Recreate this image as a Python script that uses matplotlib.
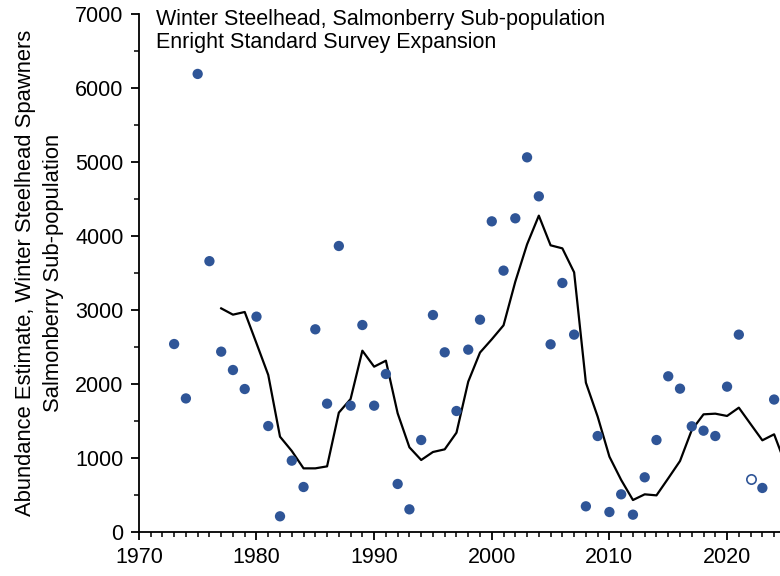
import matplotlib
matplotlib.use("Agg")
import matplotlib.pyplot as plt
from matplotlib.ticker import MultipleLocator

plt.rcParams['font.family'] = ['Liberation Sans', 'DejaVu Sans']

# annual abundance estimates (filled points)
years = [1973, 1974, 1975, 1976, 1977, 1978, 1979, 1980, 1981, 1982, 1983, 1984,
         1985, 1986, 1987, 1988, 1989, 1990, 1991, 1992, 1993, 1994, 1995, 1996,
         1997, 1998, 1999, 2000, 2001, 2002, 2003, 2004, 2005, 2006, 2007, 2008,
         2009, 2010, 2011, 2012, 2013, 2014, 2015, 2016, 2017, 2018, 2019, 2020,
         2021, 2023, 2024]
counts = [2540, 1805, 6190, 3660, 2437, 2189, 1932, 2910, 1432, 212, 964, 608,
          2739, 1734, 3865, 1707, 2797, 1707, 2135, 649, 306, 1243, 2932, 2428,
          1635, 2464, 2869, 4198, 3532, 4239, 5063, 4536, 2536, 3365, 2667, 347,
          1297, 270, 509, 234, 739, 1243, 2104, 1937, 1428, 1369, 1297, 1964,
          2667, 595, 1790]

# preliminary / incomplete estimate (open point)
open_years = [2022]
open_counts = [716]

# running average line
avg_years = list(range(1977, 2026))
avg_vals = [3022, 2937, 2973, 2550, 2122, 1288, 1095, 860, 860, 887, 1613, 1797,
            2450, 2234, 2315, 1604, 1144, 973, 1081, 1117, 1342, 2032, 2425, 2604,
            2793, 3383, 3887, 4275, 3874, 3833, 3509, 2018, 1560, 1018, 703, 432,
            509, 495, 725, 959, 1378, 1590, 1599, 1568, 1680, 1459, 1239, 1320, 900]

blue = '#2F5597'
fs = 15.5

fig = plt.figure(figsize=(7.8, 5.76), dpi=100)
ax = fig.add_axes([0.178, 0.0764, 0.822, 0.8993])

ax.plot(avg_years, avg_vals, color='black', lw=1.6, zorder=2)
ax.scatter(years, counts, s=55, color=blue, edgecolors='none', zorder=3)
ax.scatter(open_years, open_counts, s=45, facecolors='white', edgecolors=blue,
           linewidths=1.2, zorder=3)

ax.set_xlim(1970, 2024.5)
ax.set_ylim(0, 7000)
ax.xaxis.set_major_locator(MultipleLocator(10))
ax.xaxis.set_minor_locator(MultipleLocator(1))
ax.yaxis.set_major_locator(MultipleLocator(1000))
ax.yaxis.set_minor_locator(MultipleLocator(500))

for s in ['top', 'right']:
    ax.spines[s].set_visible(False)
for s in ['left', 'bottom']:
    ax.spines[s].set_linewidth(1.3)
ax.tick_params(which='major', direction='out', length=6, width=1.3,
               labelsize=fs, pad=5)
ax.tick_params(which='minor', direction='out', length=3.5, width=1.1)

ax.set_ylabel("Abundance Estimate, Winter Steelhead Spawners\nSalmonberry Sub-population",
              fontsize=15.8, linespacing=1.45, labelpad=8)

ax.text(0.027, 1.01, "Winter Steelhead, Salmonberry Sub-population\nEnright Standard Survey Expansion",
        transform=ax.transAxes, ha='left', va='top', fontsize=fs, linespacing=1.15)

fig.savefig("out.png", dpi=100)
